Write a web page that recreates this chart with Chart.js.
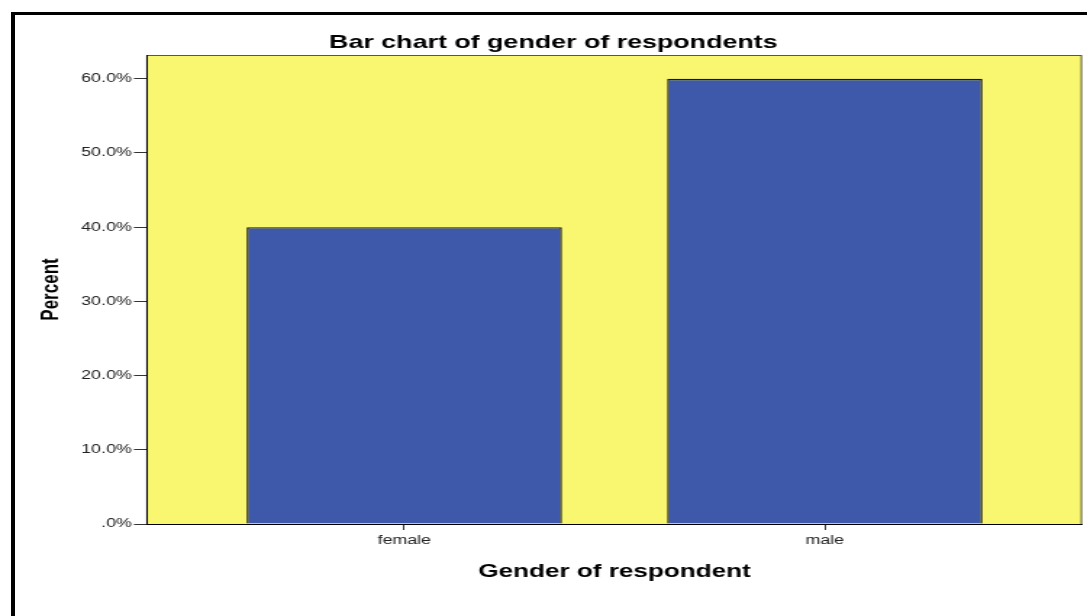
<!DOCTYPE html>
<html>
<head>
<meta charset="utf-8">
<title>Bar chart of gender of respondents</title>
<script src="https://cdn.jsdelivr.net/npm/chart.js@4"></script>
<style>
  html, body { margin: 0; padding: 0; background: #fff; overflow: hidden; }
  /* black frame along the top and left edges */
  #frame { position: absolute; left: 11px; top: 12px; right: 0; bottom: 0;
           border-left: 4px solid #000; border-top: 3px solid #000; }
  #chart { position: absolute; left: 0; top: 0; }
</style>
</head>
<body>
<div id="frame"></div>
<!-- drawn at 750 wide, then stretched out to the page width -->
<canvas id="chart" width="750" height="616" style="width:1087px;height:616px"></canvas>
<script>
// data
const categories = ['female', 'male'];
const percents = [40, 60];
const yTicks = [0, 10, 20, 30, 40, 50, 60];
const yTickLabels = ['.0%', '10.0%', '20.0%', '30.0%', '40.0%', '50.0%', '60.0%'];

const chartTitle = 'Bar chart of gender of respondents';
const xTitle = 'Gender of respondent';
const yTitle = 'Percent';

Chart.defaults.font.family = '"Liberation Sans", Arial, sans-serif';

// yellow plot area with a thin grey edge
const plotBackground = {
  id: 'plotBackground',
  beforeDraw(chart) {
    const ctx = chart.ctx;
    const a = chart.chartArea;
    ctx.save();
    ctx.fillStyle = '#f9f770';
    ctx.fillRect(a.left, a.top, a.right - a.left, a.bottom - a.top);
    ctx.strokeStyle = '#555';
    ctx.lineWidth = 1;
    ctx.strokeRect(a.left, a.top + 0.5, a.right - a.left - 0.5, a.bottom - a.top);
    ctx.restore();
  }
};

new Chart(document.getElementById('chart'), {
  type: 'bar',
  data: {
    datasets: [{
      data: percents.map((v, i) => ({ x: i, y: v })),
      backgroundColor: '#3e58aa',
      borderColor: '#1a1a1a',
      borderWidth: 1.4,
      barPercentage: 0.75,
      categoryPercentage: 1
    }]
  },
  options: {
    responsive: false,
    devicePixelRatio: 1,
    animation: false,
    layout: { padding: { left: 17, right: 3.4, top: 0, bottom: 33.2 } },
    plugins: {
      legend: { display: false },
      tooltip: { enabled: false },
      title: {
        display: true,
        text: chartTitle,
        color: '#000',
        font: { size: 18.5, weight: 'bold' },
        padding: { top: 31.5, bottom: 1.3 }
      }
    },
    scales: {
      x: {
        type: 'linear',
        min: -0.612,
        max: 1.612,
        offset: false,
        afterBuildTicks: s => { s.ticks = categories.map((c, i) => ({ value: i })); },
        afterFit: s => { s.height = 58.8; },
        ticks: {
          callback: v => categories[v],
          color: '#222',
          font: { size: 12.3 },
          padding: 3,
          maxRotation: 0,
          autoSkip: false
        },
        grid: { drawOnChartArea: false, offset: false, tickLength: 6, color: '#333' },
        border: { color: '#000' },
        title: {
          display: true,
          text: xTitle,
          color: '#000',
          font: { size: 18, weight: 'bold' },
          padding: { top: 4, bottom: 0 }
        }
      },
      y: {
        min: 0,
        max: 63.2,
        afterBuildTicks: s => { s.ticks = yTicks.map(v => ({ value: v })); },
        afterFit: s => { s.width = 84.4; },
        ticks: {
          callback: (v, i) => yTickLabels[i],
          color: '#222',
          font: { size: 12.3 },
          padding: 1.5
        },
        grid: { drawOnChartArea: false, tickLength: 9, color: '#333' },
        border: { color: '#000' },
        title: {
          display: true,
          text: yTitle,
          color: '#000',
          font: { size: 17, weight: 'bold' },
          padding: { top: 7.8, bottom: 0 }
        }
      }
    }
  },
  plugins: [plotBackground]
});
</script>
</body>
</html>
